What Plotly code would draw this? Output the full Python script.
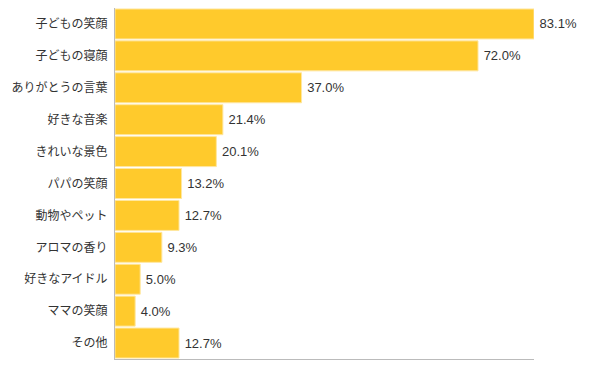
import plotly.graph_objects as go

categories = ["子どもの笑顔", "子どもの寝顔", "ありがとうの言葉", "好きな音楽", "きれいな景色",
              "パパの笑顔", "動物やペット", "アロマの香り", "好きなアイドル", "ママの笑顔", "その他"]
values = [83.1, 72.0, 37.0, 21.4, 20.1, 13.2, 12.7, 9.3, 5.0, 4.0, 12.7]
labels = [f"\u2009{v:.1f}%" for v in values]

font_family = "Noto Sans CJK JP, Noto Sans, sans-serif"

fig = go.Figure(go.Bar(
    y=categories, x=values, orientation="h",
    text=labels, textposition="outside", cliponaxis=False,
    textfont=dict(size=13, color="#333333", family="Liberation Sans, Arial, sans-serif"),
    marker=dict(color="#FFCA2C", line=dict(color="#FFE7A0", width=1)),
))

fig.update_layout(
    width=601, height=367,
    margin=dict(l=107, r=75, t=0, b=16),
    paper_bgcolor="white", plot_bgcolor="white",
    bargap=0.06, showlegend=False,
    font=dict(family=font_family, size=12, color="#333333"),
)
fig.update_xaxes(range=[0, 83.1], showticklabels=False, showgrid=False, zeroline=False,
                 showline=True, linecolor="#BBBBBB", linewidth=1, ticks="", automargin=False)
fig.update_yaxes(autorange="reversed", showgrid=False, zeroline=False,
                 showline=True, linecolor="#BBBBBB", linewidth=1, ticks="", automargin=False,
                 ticklabelstandoff=4, tickfont=dict(size=12, color="#333333"))

fig.write_html("out.html")
